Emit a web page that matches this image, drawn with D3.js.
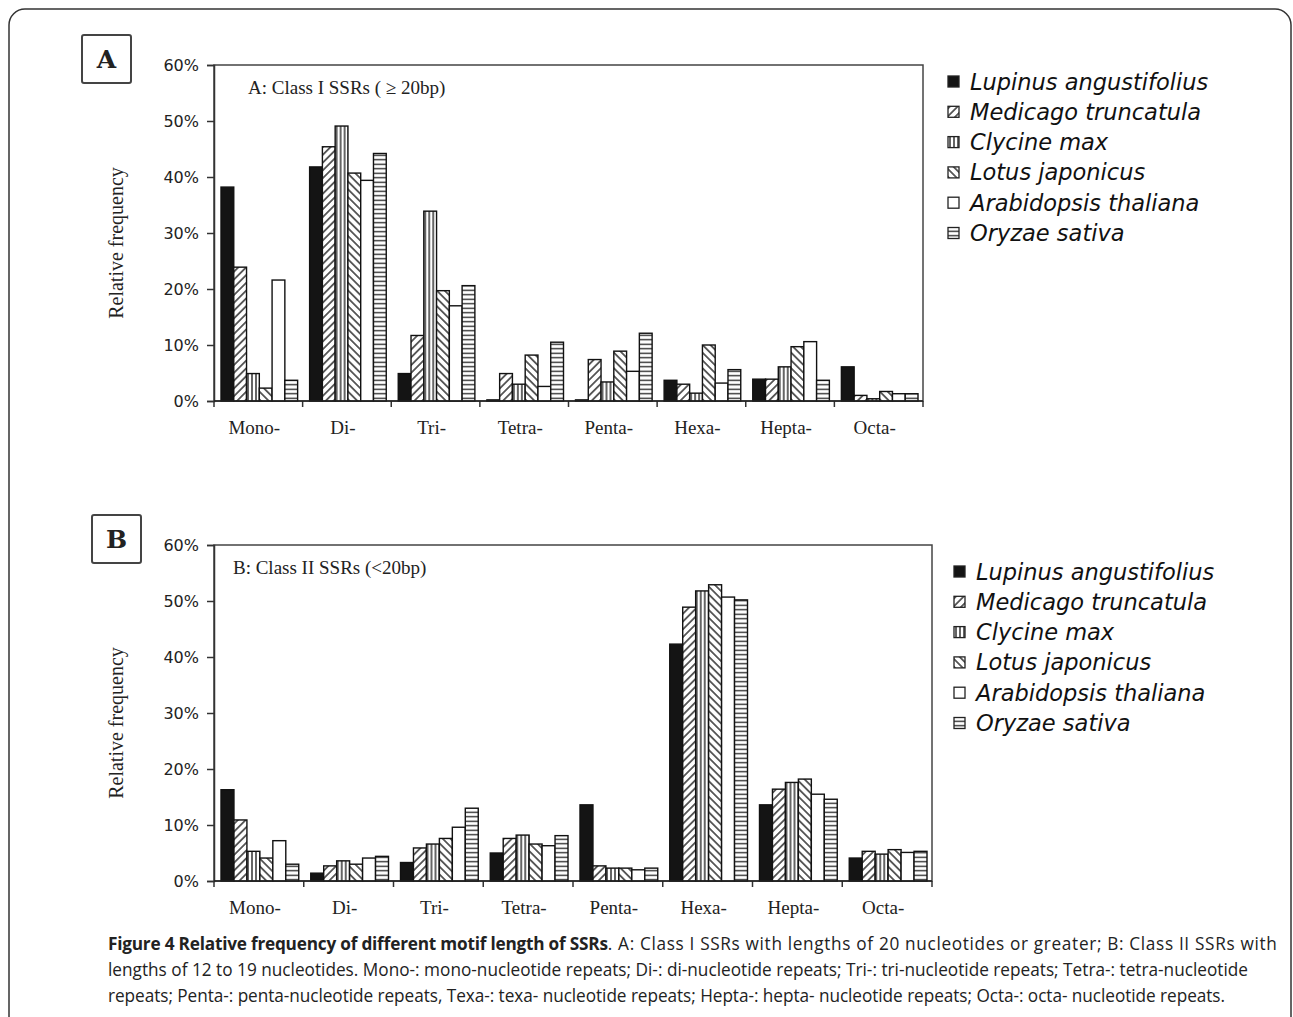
<!DOCTYPE html>
<html>
<head>
<meta charset="utf-8">
<script src="https://cdn.jsdelivr.net/npm/d3@7"></script>
<style>
  body { margin: 0; background: #fff; }
  svg { display: block; }
</style>
</head>
<body>
<div id="chart-area"></div>
<script>
// categories and series
var categories = ['Mono-', 'Di-', 'Tri-', 'Tetra-', 'Penta-', 'Hexa-', 'Hepta-', 'Octa-'];
var species = ['Lupinus angustifolius', 'Medicago truncatula', 'Clycine max',
  'Lotus japonicus', 'Arabidopsis thaliana', 'Oryzae sativa'];
var yTicks = [0, 10, 20, 30, 40, 50, 60];

// Class I SSRs (>= 20bp), percent
var lupinusA     = [38.2, 41.8, 4.9, 0.2, 0.2, 3.7, 3.9, 6.1];
var medicagoA    = [23.9, 45.4, 11.7, 4.9, 7.4, 3.0, 3.9, 1.0];
var glycineA     = [4.9, 49.1, 33.9, 3.0, 3.4, 1.4, 6.1, 0.4];
var lotusA       = [2.3, 40.7, 19.7, 8.2, 8.9, 10.0, 9.7, 1.7];
var arabidopsisA = [21.6, 39.4, 17.0, 2.6, 5.3, 3.2, 10.6, 1.3];
var oryzaA       = [3.7, 44.2, 20.6, 10.5, 12.1, 5.6, 3.7, 1.3];

// Class II SSRs (<20bp), percent
var lupinusB     = [16.3, 1.4, 3.3, 5.0, 13.6, 42.3, 13.6, 4.1];
var medicagoB    = [10.9, 2.7, 5.9, 7.6, 2.7, 48.9, 16.4, 5.3];
var glycineB     = [5.3, 3.6, 6.6, 8.2, 2.3, 51.8, 17.6, 4.8];
var lotusB       = [4.1, 3.0, 7.6, 6.6, 2.3, 52.9, 18.2, 5.6];
var arabidopsisB = [7.2, 4.1, 9.6, 6.3, 2.0, 50.7, 15.5, 5.1];
var oryzaB       = [3.0, 4.4, 13.0, 8.1, 2.3, 50.2, 14.6, 5.3];

var W = 1293, H = 1017;

var svg = d3.select('#chart-area')
  .append('svg')
    .attr('width', W)
    .attr('height', H);

// fill patterns
var defs = svg.append('defs');
function linePattern(id, size, angle, horizontal) {
  var p = defs.append('pattern')
    .attr('id', id)
    .attr('patternUnits', 'userSpaceOnUse')
    .attr('width', size)
    .attr('height', size)
    .attr('patternTransform', 'rotate(' + angle + ')');
  p.append('rect').attr('width', size).attr('height', size).attr('fill', '#fff');
  if (horizontal) {
    p.append('line').attr('x1', 0).attr('x2', size).attr('y1', size / 2).attr('y2', size / 2)
      .attr('stroke', '#222').attr('stroke-width', 1.3);
  } else {
    p.append('line').attr('x1', size / 2).attr('x2', size / 2).attr('y1', 0).attr('y2', size)
      .attr('stroke', '#222').attr('stroke-width', 1.4);
  }
}
linePattern('p-fwd', 5.5, 45, false);
linePattern('p-vert', 4, 0, false);
linePattern('p-back', 5.5, -45, false);
linePattern('p-horz', 4.5, 0, true);

var fills = ['#141414', 'url(#p-fwd)', 'url(#p-vert)', 'url(#p-back)', '#fff', 'url(#p-horz)'];

// outer figure frame
svg.append('rect')
  .attr('x', 9).attr('y', 9)
  .attr('width', 1282).attr('height', 1040)
  .attr('rx', 16)
  .attr('fill', 'none')
  .attr('stroke', '#333')
  .attr('stroke-width', 1.5);

function drawPanel(opt) {
  var g = svg.append('g');

  var x = d3.scaleBand()
    .domain(categories)
    .range([opt.left, opt.right]);

  var xs = d3.scaleBand()
    .domain(species)
    .range([7, x.bandwidth() - 5]);

  var y = d3.scaleLinear()
    .domain([0, 60])
    .range([opt.bottom, opt.top]);

  // plot frame
  g.append('rect')
    .attr('x', opt.left).attr('y', opt.top)
    .attr('width', opt.right - opt.left)
    .attr('height', opt.bottom - opt.top)
    .attr('fill', 'none')
    .attr('stroke', '#444')
    .attr('stroke-width', 1.5);

  // bars
  var groups = g.selectAll('.cat')
    .data(categories)
    .enter().append('g')
      .attr('transform', function(d) { return 'translate(' + x(d) + ',0)'; });

  groups.selectAll('rect')
    .data(function(d, i) {
      return species.map(function(s, j) { return { s: s, j: j, v: opt.series[j][i] }; });
    })
    .enter().append('rect')
      .attr('x', function(d) { return xs(d.s); })
      .attr('y', function(d) { return y(d.v); })
      .attr('width', xs.bandwidth())
      .attr('height', function(d) { return opt.bottom - y(d.v); })
      .attr('fill', function(d) { return fills[d.j]; })
      .attr('stroke', '#111')
      .attr('stroke-width', 1.4);

  // Y axis
  var yAxis = g.append('g')
    .attr('transform', 'translate(' + opt.left + ',0)')
    .call(d3.axisLeft(y).tickValues(yTicks).tickSize(7).tickPadding(8)
      .tickFormat(function(d) { return d + '%'; }));
  yAxis.select('.domain').attr('stroke', '#333').attr('stroke-width', 1.5);
  yAxis.selectAll('line').attr('stroke', '#333').attr('stroke-width', 1.5);
  yAxis.selectAll('text')
    .attr('font-family', 'DejaVu Sans, sans-serif')
    .attr('font-size', '16px')
    .attr('fill', '#222');

  // X axis: ticks at category boundaries
  var bounds = categories.map(function(c) { return x(c); }).concat([opt.right]);
  g.selectAll('.xtick')
    .data(bounds)
    .enter().append('line')
      .attr('x1', function(d) { return d; })
      .attr('x2', function(d) { return d; })
      .attr('y1', opt.bottom)
      .attr('y2', opt.bottom + 6)
      .attr('stroke', '#333')
      .attr('stroke-width', 1.5);
  g.append('line')
    .attr('x1', opt.left).attr('x2', opt.right)
    .attr('y1', opt.bottom).attr('y2', opt.bottom)
    .attr('stroke', '#222').attr('stroke-width', 1.6);

  g.selectAll('.xlab')
    .data(categories)
    .enter().append('text')
      .attr('x', function(d) { return x(d) + x.bandwidth() / 2 - 4; })
      .attr('y', opt.bottom + 33)
      .attr('text-anchor', 'middle')
      .attr('font-family', 'Liberation Serif, serif')
      .attr('font-size', '19px')
      .attr('fill', '#222')
      .text(function(d) { return d; });

  // Y label
  g.append('text')
    .attr('transform', 'translate(' + (opt.left - 91) + ',' + ((opt.top + opt.bottom) / 2 + 10) + ') rotate(-90)')
    .attr('text-anchor', 'middle')
    .attr('font-family', 'Liberation Serif, serif')
    .attr('font-size', '20px')
    .attr('fill', '#222')
    .text('Relative frequency');

  // inner title
  g.append('text')
    .attr('x', opt.titleX)
    .attr('y', opt.top + 29)
    .attr('font-family', 'Liberation Serif, serif')
    .attr('font-size', '19px')
    .attr('fill', '#222')
    .text(opt.title);

  // panel letter box
  g.append('rect')
    .attr('x', opt.boxX).attr('y', opt.boxY)
    .attr('width', 49).attr('height', 48)
    .attr('rx', 2)
    .attr('fill', '#fff')
    .attr('stroke', '#444')
    .attr('stroke-width', 2);
  g.append('text')
    .attr('x', opt.boxX + 24.5)
    .attr('y', opt.boxY + 33)
    .attr('text-anchor', 'middle')
    .attr('font-family', 'DejaVu Serif, serif')
    .attr('font-weight', 'bold')
    .attr('font-size', '25px')
    .attr('fill', '#222')
    .text(opt.letter);

  // legend
  var leg = g.selectAll('.leg')
    .data(species)
    .enter().append('g')
      .attr('transform', function(d, i) {
        return 'translate(' + opt.legX + ',' + (opt.legY + i * 30.3) + ')';
      });
  leg.append('rect')
    .attr('x', 0).attr('y', -6)
    .attr('width', 11).attr('height', 11)
    .attr('fill', function(d, i) { return fills[i]; })
    .attr('stroke', '#222')
    .attr('stroke-width', 1.3);
  leg.append('text')
    .attr('x', 22)
    .attr('y', 7.5)
    .attr('font-family', 'DejaVu Sans, sans-serif')
    .attr('font-style', 'italic')
    .attr('font-size', '22.5px')
    .attr('fill', '#111')
    .text(function(d) { return d; });
}

drawPanel({
  letter: 'A', title: 'A: Class I SSRs ( \u2265 20bp)',
  left: 214, right: 923, top: 65, bottom: 401,
  titleX: 248, boxX: 82, boxY: 35,
  legX: 948, legY: 82,
  series: [lupinusA, medicagoA, glycineA, lotusA, arabidopsisA, oryzaA]
});

drawPanel({
  letter: 'B', title: 'B: Class II SSRs (<20bp)',
  left: 214, right: 932, top: 545, bottom: 881,
  titleX: 233, boxX: 92, boxY: 515,
  legX: 954, legY: 572,
  series: [lupinusB, medicagoB, glycineB, lotusB, arabidopsisB, oryzaB]
});

// caption
var captionLines = [
  ['Figure 4 Relative frequency of different motif length of SSRs',
   '. A: Class I SSRs with lengths of 20 nucleotides or greater; B: Class II SSRs with'],
  ['', 'lengths of 12 to 19 nucleotides. Mono-: mono-nucleotide repeats; Di-: di-nucleotide repeats; Tri-: tri-nucleotide repeats; Tetra-: tetra-nucleotide'],
  ['', 'repeats; Penta-: penta-nucleotide repeats, Texa-: texa- nucleotide repeats; Hepta-: hepta- nucleotide repeats; Octa-: octa- nucleotide repeats.']
];
var captionWidths = [1169, 1140, 1117];
var boldWidth = 500;

var cap = svg.selectAll('.cap')
  .data(captionLines)
  .enter().append('text')
    .attr('x', 108)
    .attr('y', function(d, i) { return 950 + i * 26; })
    .attr('font-family', 'Open Sans, sans-serif')
    .attr('font-size', '16px')
    .attr('fill', '#222');
var boldPart = cap.append('tspan')
  .attr('font-weight', 'bold')
  .text(function(d) { return d[0]; });
var plainPart = cap.append('tspan')
  .text(function(d) { return d[1]; });

// size the caption font so the second line spans its width
var natural = cap.nodes()[1].getComputedTextLength();
var capSize = 16 * captionWidths[1] / natural;
cap.attr('font-size', capSize + 'px');

// first line: bold lead-in is a little tighter in the original face
boldPart.filter(function(d, i) { return i === 0; })
  .attr('textLength', boldWidth)
  .attr('lengthAdjust', 'spacing');
plainPart.filter(function(d, i) { return i === 0; })
  .attr('textLength', captionWidths[0] - boldWidth)
  .attr('lengthAdjust', 'spacing');
cap.filter(function(d, i) { return i > 0; })
  .attr('textLength', function(d, i) { return captionWidths[i + 1]; })
  .attr('lengthAdjust', 'spacing');
</script>
</body>
</html>
